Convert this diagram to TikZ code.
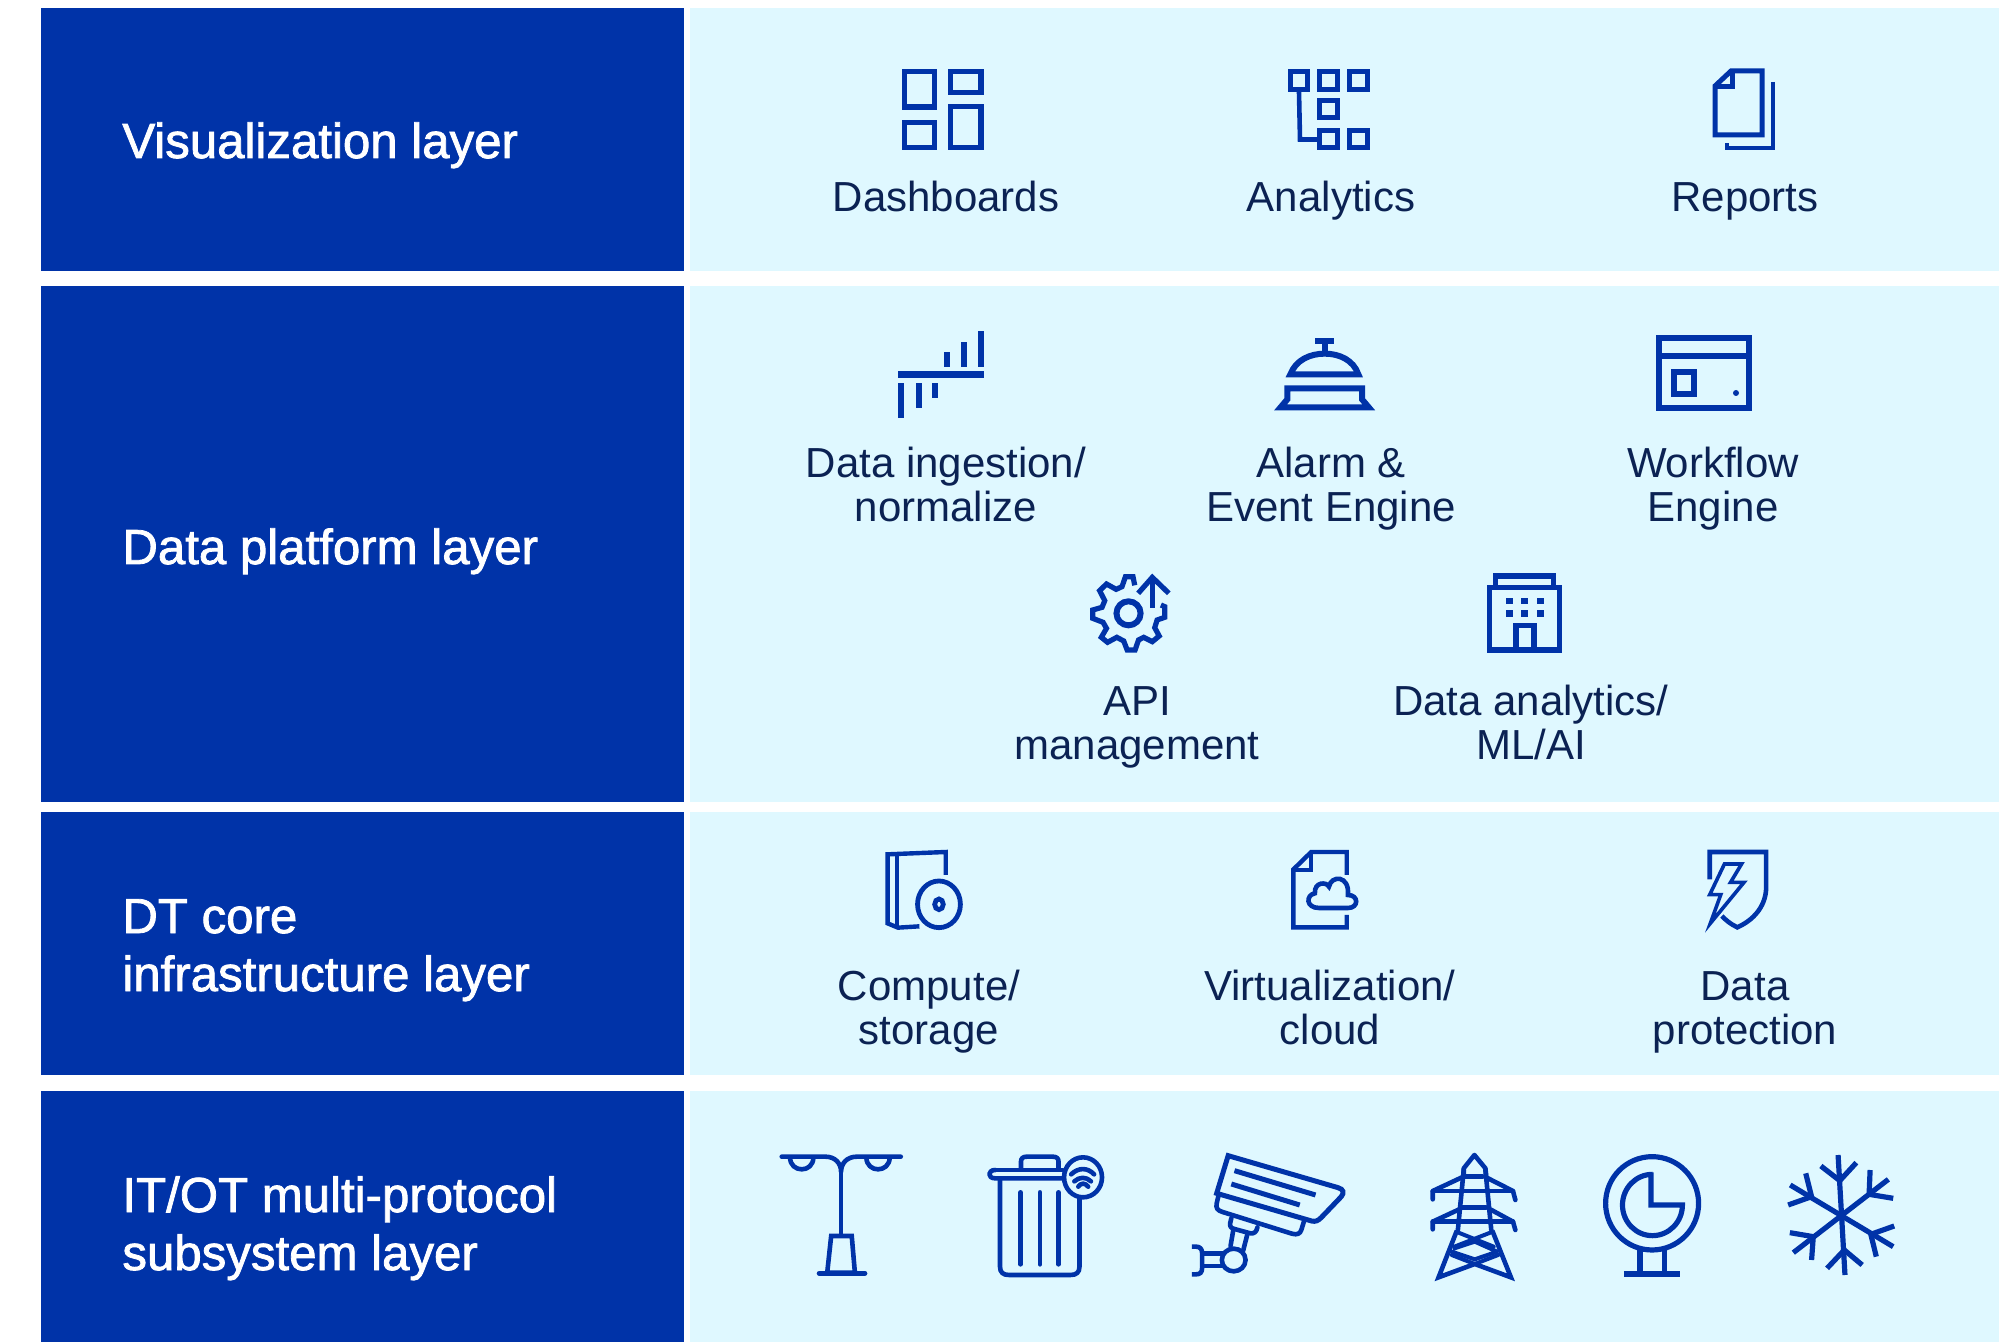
\documentclass[tikz,border=0pt]{standalone}
\usepackage{fontspec}
\setmainfont{Liberation Sans}
\newfontfamily\medfont{Liberation Sans}[FakeBold=1.6]
\definecolor{barblue}{HTML}{0033A8}
\definecolor{panel}{HTML}{DFF8FF}
\definecolor{ink}{HTML}{0B2253}
\tikzset{
  bar/.style={fill=barblue,draw=none},
  pane/.style={fill=panel,draw=none},
  head/.style={text=white,anchor=base west,align=left,inner sep=0pt,font=\medfont\fontsize{24.6}{29}\selectfont},
  lab/.style={text=ink,anchor=base,align=center,inner sep=0pt,font=\fontsize{21}{22}\selectfont},
  ic/.style={draw=barblue,line width=2.6pt,fill=none},
  icb/.style={draw=barblue,line width=2.3pt,fill=none,line cap=round,line join=round},
  icf/.style={fill=barblue,draw=none},
  z2/.style={shift={(860,310)},xscale=0.6122,yscale=0.3333},
  z3/.style={shift={(1060,560)},xscale=0.3444,yscale=0.3333},
  z4/.style={shift={(860,840)},xscale=0.6122,yscale=0.3333},
  z5/.style={shift={(760,1140)},xscale=0.3954,yscale=0.3333},
  z6/.style={shift={(1400,1140)},xscale=0.3444,yscale=0.3333},
}
\begin{document}
\begin{tikzpicture}[x=0.5pt,y=-0.5pt]
\useasboundingbox (0,0) rectangle (1999,1342);
\fill[white] (0,0) rectangle (1999,1342);
% panels
\fill[bar] (41,8) rectangle (684,271);
\fill[bar] (41,286) rectangle (684,802);
\fill[bar] (41,812) rectangle (684,1075);
\fill[bar] (41,1091) rectangle (684,1342);
\fill[pane] (690,8) rectangle (1999,271);
\fill[pane] (690,286) rectangle (1999,802);
\fill[pane] (690,812) rectangle (1999,1075);
\fill[pane] (690,1091) rectangle (1999,1342);
% heads
\node[head] (h1) at (122,158) {Visualization layer};
\node[head] (h2) at (122,564) {Data platform layer};
\node[head] (h3) at (122,991) {DT core\\infrastructure layer};
\node[head] (h4) at (122,1270) {IT/OT multi-protocol\\subsystem layer};
% labels
\node[lab] (l1) at (946,212) {Dashboards};
\node[lab] (l2) at (1331,212) {Analytics};
\node[lab] (l3) at (1745,212) {Reports};
\node[lab] (l4) at (946,522) {Data ingestion/\\normalize};
\node[lab] (l5) at (1331,522) {Alarm \&\\Event Engine};
\node[lab] (l6) at (1713,522) {Workflow\\Engine};
\node[lab] (l7) at (1137,759) {API\\management};
\node[lab] (l8) at (1531,759) {Data analytics/\\ML/AI};
\node[lab] (l9) at (929,1044) {Compute/\\storage};
\node[lab] (l10) at (1330,1044) {Virtualization/\\cloud};
\node[lab] (l11) at (1745,1044) {Data\\protection};
% dashboards
\draw[ic] (904.5,71.5) rectangle (934.5,107);
\draw[ic] (950.5,71.5) rectangle (981,92.5);
\draw[ic] (904.5,122.5) rectangle (934.5,147.5);
\draw[ic] (950.5,106.5) rectangle (981,147.5);
% analytics
\draw[ic] (1290.5,71.5) rectangle (1307.5,89.5);
\draw[ic] (1319.5,71.5) rectangle (1337.5,89.5);
\draw[ic] (1349.5,71.5) rectangle (1367.5,89.5);
\draw[ic] (1319.5,100.5) rectangle (1337.5,117.5);
\draw[ic] (1319.5,130.5) rectangle (1337.5,147.5);
\draw[ic] (1349.5,130.5) rectangle (1367.5,147.5);
\draw[ic,line width=2.3pt] (1299,92) -- (1300,139.5) -- (1319,139.5);
% reports
\draw[ic,line width=2.5pt] (1731,71) -- (1762,71) -- (1762,135) -- (1715,135) -- (1715,86) -- cycle;
\draw[ic,line width=2.5pt] (1732,71) -- (1732,87) -- (1715,87);
\draw[ic,line width=2.2pt] (1773,82) -- (1773,148) -- (1727,148) -- (1727,143);
% data ingestion
\fill[icf] (898,371) rectangle (984,378);
\fill[icf] (944,352) rectangle (950,367);
\fill[icf] (961,342) rectangle (967,367);
\fill[icf] (978,331) rectangle (984,367);
\fill[icf] (898,383) rectangle (904,418);
\fill[icf] (916,383) rectangle (922,408);
\fill[icf] (932,383) rectangle (938,398);
% bell
\begin{scope}[z2]
\fill[icf] (743,85) rectangle (775,103);
\fill[icf] (754,103) rectangle (764,125);
\draw[ic,line width=3pt] (703,193) .. controls (712,150) and (735,131) .. (759,131) .. controls (783,131) and (806,150) .. (814,193) -- cycle;
\draw[ic,line width=3pt] (698,235) -- (820,235) -- (820,268) -- (831,292) -- (687,292) -- (698,268) -- cycle;
\end{scope}
% workflow
\draw[ic,line width=3pt] (1658.8,337.8) rectangle (1749.2,408.2);
\draw[ic,line width=3pt] (1658.8,356.5) -- (1749.2,356.5);
\draw[ic,line width=3pt] (1674,372) rectangle (1694,394);
\fill[icf] (1736,393) circle (3);
% gear
\begin{scope}[z3]
\draw[ic] (217,76) -- (212,50) -- (190,50) -- (180,80) -- (163,88) -- (135,72) -- (115,92) -- (130,122) -- (122,142) -- (95,150) -- (95,175) -- (125,187) -- (135,205) -- (120,232) -- (138,247) -- (165,232) -- (185,243) -- (195,270) -- (218,270) -- (228,240) -- (243,232) -- (268,245) -- (288,228) -- (275,203) -- (282,180) -- (304,172) -- (304,140) -- (293,135);
\draw[ic,line width=3pt] (199,160) ellipse [x radius=35,y radius=36];
\draw[ic] (268,143) -- (268,50);
\draw[ic] (227,100) -- (268,52) -- (316,100);
% building
\draw[ic] (1248,82) rectangle (1450,270);
\draw[ic] (1265,82) -- (1265,48) -- (1434,48) -- (1434,82);
\draw[ic] (1324,267) -- (1324,197) -- (1376,197) -- (1376,267);
\foreach \wx in {1295,1339,1385} \foreach \wy in {113,150} \fill[icf] (\wx,\wy) rectangle +(20,20);
\end{scope}
% compute
\begin{scope}[z4]
\draw[ic,line width=2.2pt] (140,105) -- (140,36) -- (45,43) -- (45,250) -- (62,263) -- (97,259);
\draw[ic,line width=2.2pt] (60,45) -- (60,258);
\draw[ic,line width=2.4pt] (129,193) ellipse [x radius=35,y radius=70];
\draw[ic,line width=2.4pt] (129,193) ellipse [x radius=7,y radius=16];
% cloud file
\draw[ic,line width=2.2pt] (795,105) -- (795,36) -- (737,36) -- (708,88) -- (708,262) -- (795,262) -- (795,225);
\draw[ic,line width=2.2pt] (737,36) -- (737,90) -- (708,90);
\draw[ic,line width=2.3pt] (750,204) .. controls (728,204) and (728,165) .. (743,160) .. controls (742,125) and (762,125) .. (766,140) .. controls (770,105) and (800,105) .. (797,165) .. controls (815,165) and (815,204) .. (797,204) -- cycle;
\fill[icf] (745,198) rectangle (800,210);
% shield
\draw[ic,line width=2.3pt] (1388,118) -- (1388,36) -- (1480,36) -- (1480,150) .. controls (1478,200) and (1460,240) .. (1433,262) .. controls (1422,252) and (1415,242) .. (1408,228);
\draw[ic,line width=1.8pt,miter limit=20] (1412,72) -- (1440,72) -- (1422,127) -- (1444,127) -- (1389,250) -- (1406,164) -- (1388,164) -- cycle;
\end{scope}
% lamp
\begin{scope}[z5]
\draw[icb] (55,50) -- (165,50) .. controls (190,50) and (205,70) .. (205,95) .. controls (205,70) and (220,50) .. (245,50) -- (356,50);
\draw[icb] (205,90) -- (205,285);
\draw[icb] (76,52) .. controls (76,100) and (135,100) .. (135,52);
\draw[icb] (269,52) .. controls (269,100) and (328,100) .. (328,52);
\draw[ic,line width=2.3pt] (180,288) -- (232,288) -- (240,398) -- (170,398) -- cycle;
\draw[icb,line width=2.6pt] (150,400) -- (265,400);
% trash
\draw[icb] (590,90) -- (765,90);
\draw[icb] (765,115) -- (595,115) .. controls (575,115) and (575,90) .. (595,90);
\draw[icb] (660,85) -- (660,65) .. controls (660,55) and (665,50) .. (675,50) -- (740,50) .. controls (750,50) and (755,55) .. (755,65) -- (755,85);
\draw[icb] (607,118) -- (607,380) .. controls (607,398) and (615,405) .. (630,405) -- (785,405) .. controls (800,405) and (808,398) .. (808,380) -- (808,175);
\draw[icb] (659,157) -- (659,373);
\draw[icb] (708,157) -- (708,373);
\draw[icb] (755,157) -- (755,373);
\draw[icb] (817,112) ellipse [x radius=48,y radius=60];
\draw[icb] (787,103) .. controls (805,82) and (828,82) .. (845,103);
\draw[icb] (795,124) .. controls (808,110) and (825,110) .. (837,124);
\draw[icb] (805,140) .. controls (812,128) and (822,128) .. (830,140);
% camera
\draw[ic,line width=2.5pt] (1184,47) -- (1462,143) .. controls (1476,148) and (1478,158) .. (1470,170) -- (1420,232) .. controls (1412,242) and (1405,246) .. (1395,243) -- (1155,160) -- cycle;
\draw[ic,line width=2.5pt] (1200,92) -- (1405,165);
\draw[ic,line width=2.5pt] (1192,132) -- (1365,195);
\draw[icb] (1160,165) -- (1155,190) .. controls (1152,205) and (1158,212) .. (1170,216) -- (1345,281) .. controls (1360,286) and (1366,280) .. (1369,270) -- (1376,243);
\draw[icb] (1192,235) -- (1189,250) .. controls (1188,260) and (1192,265) .. (1200,267) -- (1240,280) .. controls (1250,282) and (1256,275) .. (1258,262);
\draw[icb] (1197,270) -- (1190,318);
\draw[icb] (1232,285) -- (1222,332);
\draw[icb] (1198,360) ellipse [x radius=30,y radius=34];
\draw[ic,line width=2.3pt] (1092,320) -- (1103,320) .. controls (1113,320) and (1118,328) .. (1118,338) -- (1118,385) .. controls (1118,397) and (1113,403) .. (1103,403) -- (1092,403);
\draw[ic,line width=2.3pt] (1118,340) -- (1170,340);
\draw[ic,line width=2.3pt] (1118,378) -- (1170,378);
\end{scope}
% tower
\begin{scope}[z6]
\draw[icb] (185,105) -- (185,85) -- (216,45) -- (248,85) -- (250,105);
\draw[icb] (185,90) -- (168,270);
\draw[icb] (248,90) -- (265,270);
\draw[ic,line width=2.3pt,miter limit=20] (165,272) -- (112,412) -- (217,372) -- (322,412) -- (268,272);
\draw[icb,line width=2pt] (170,278) -- (272,320);
\draw[icb,line width=2pt] (262,278) -- (158,320);
\draw[icb,line width=2pt] (158,325) -- (217,305) -- (282,335) -- (217,358) -- (150,335);
\draw[icb,line width=2pt] (150,345) -- (217,372) -- (285,345);
\draw[icb] (190,110) -- (240,110);
\draw[icb] (95,178) -- (95,153) -- (180,112);
\draw[icb] (335,180) -- (328,153) -- (250,112);
\draw[icb] (95,153) -- (328,153);
\draw[icb] (95,268) -- (95,245) -- (172,208);
\draw[icb] (335,270) -- (328,245) -- (262,208);
\draw[icb] (95,245) -- (328,245);
\draw[icb] (180,202) -- (250,202);
% meter
\draw[ic] (732,190) ellipse [x radius=135,y radius=140];
\draw[ic] (729,97) -- (729,195) -- (820,195) arc [start angle=0,end angle=270,x radius=87,y radius=92];
\draw[ic] (697,330) -- (697,402);
\draw[ic] (767,330) -- (767,402);
\draw[ic] (650,402) -- (812,402);
% snowflake
\draw[ic] (1272,45) -- (1292,405);
\draw[ic] (1133,135) -- (1432,320);
\draw[ic] (1418,118) -- (1142,338);
\draw[ic] (1222,78) -- (1277,122) -- (1325,68);
\draw[ic] (1240,385) -- (1290,330) -- (1342,375);
\draw[ic] (1178,100) -- (1195,170) -- (1127,195);
\draw[ic] (1365,90) -- (1362,163) -- (1432,175);
\draw[ic] (1435,258) -- (1367,283) -- (1383,350);
\draw[ic] (1132,278) -- (1200,290) -- (1195,360);
\end{scope}
\end{tikzpicture}
\end{document}
